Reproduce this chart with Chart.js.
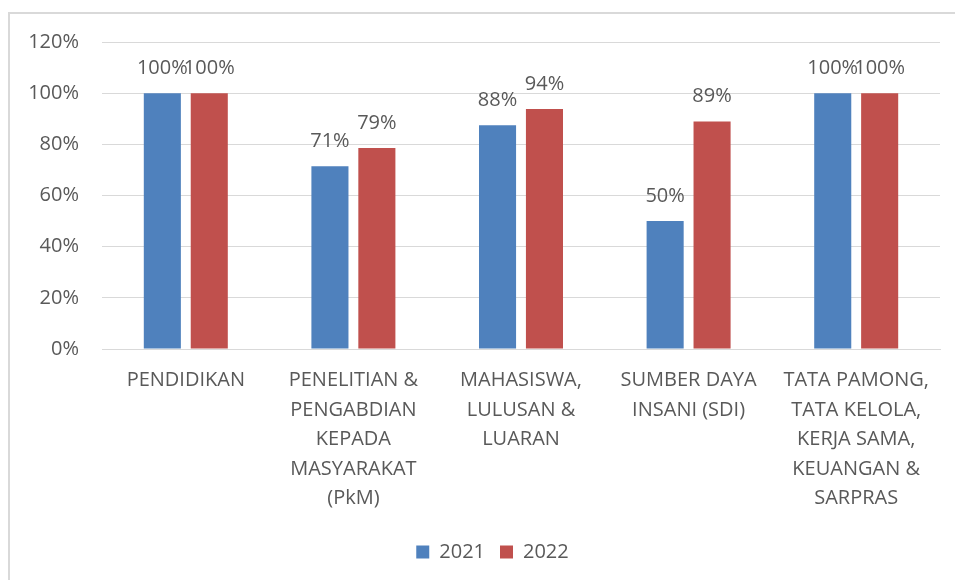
<!DOCTYPE html>
<html><head><meta charset="utf-8">
<script src="https://cdn.jsdelivr.net/npm/chart.js@4/dist/chart.umd.min.js"></script>
<style>
html,body{margin:0;padding:0;background:#fff;}
#wrap{position:absolute;left:0;top:0;width:955px;height:580px;}
#frame{position:absolute;left:8px;top:12px;width:960px;height:600px;border-left:2px solid #d9d9d9;border-top:2px solid #d9d9d9;box-sizing:border-box;}
canvas{position:absolute;left:0;top:0;}
</style></head>
<body>
<div id="wrap"><div id="frame"></div><canvas id="c" width="955" height="580"></canvas></div>
<script>
const categories = [
  ["PENDIDIKAN"],
  ["PENELITIAN &","PENGABDIAN","KEPADA","MASYARAKAT","(PkM)"],
  ["MAHASISWA,","LULUSAN &","LUARAN"],
  ["SUMBER DAYA","INSANI (SDI)"],
  ["TATA PAMONG,","TATA KELOLA,","KERJA SAMA,","KEUANGAN &","SARPRAS"]
];
const seriesNames = ["2021","2022"];
const values2021 = [100, 71.4, 87.5, 50, 100];
const values2022 = [100, 78.6, 93.8, 88.9, 100];
const yTicks = [0,20,40,60,80,100,120];

const FONT = "'Open Sans', 'Noto Sans', sans-serif";
const TXT = "#595959";
const FS = 20;

const labelPlugin = {
  id:'vlabels',
  afterLayout(chart){
    // centre the legend under the whole frame as in the reference
    if (chart.legend) { chart.legend.left += 45; }
  },
  afterDatasetsDraw(chart){
    const ctx = chart.ctx;
    ctx.save();
    ctx.font = FS + "px " + FONT;
    ctx.fillStyle = TXT;
    ctx.textAlign = 'center';
    ctx.textBaseline = 'middle';
    chart.data.datasets.forEach((ds,i)=>{
      chart.getDatasetMeta(i).data.forEach((bar,j)=>{
        ctx.fillText(Math.round(ds.data[j]) + '%', bar.x, bar.y - 25);
      });
    });
    ctx.restore();
  }
};

new Chart(document.getElementById('c'), {
  type:'bar',
  data:{
    labels: categories,
    datasets:[
      {label:seriesNames[0], data:values2021, backgroundColor:'#4f81bd'},
      {label:seriesNames[1], data:values2022, backgroundColor:'#c0504d'}
    ]
  },
  options:{
    responsive:false,
    animation:false,
    devicePixelRatio:1,
    layout:{padding:{left:0,right:15,top:42,bottom:8}},
    plugins:{
      legend:{
        position:'bottom',
        labels:{font:{family:FONT,size:FS},color:TXT,boxWidth:13,boxHeight:13,padding:15}
      },
      tooltip:{enabled:false}
    },
    datasets:{bar:{categoryPercentage:0.56,barPercentage:0.79}},
    scales:{
      x:{
        grid:{display:false},
        border:{color:'#d9d9d9'},
        ticks:{font:{family:FONT,size:FS,lineHeight:1.475},color:TXT,padding:9,maxRotation:0,autoSkip:false},
        afterFit(s){ s.height = 178; }
      },
      y:{
        min:0,max:120,
        afterBuildTicks(s){ s.ticks = yTicks.map(v=>({value:v})); },
        ticks:{font:{family:FONT,size:FS},color:TXT,padding:23,callback:v=>v+'%'},
        grid:{color:'#d9d9d9',drawTicks:false},
        border:{display:false},
        afterFit(s){ s.width = 102; }
      }
    }
  },
  plugins:[labelPlugin]
});
</script>
</body></html>
